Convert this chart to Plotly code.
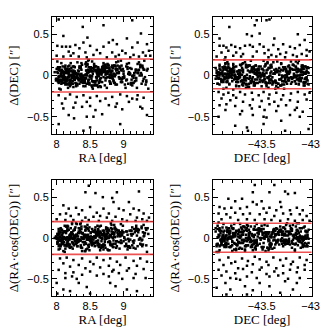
import plotly.graph_objects as go

# stars inside the +-0.2" band, shared by all four panels
ra = [8.02, 8.47, 8.91, 8.13, 9.22, 8.66, 8.35, 8.78, 9.05, 8.21,
      8.58, 8.09, 8.84, 9.31, 8.42, 8.27, 8.73, 8.96, 8.04, 8.61,
      8.38, 9.14, 8.17, 8.52, 8.88, 8.31, 9.27, 8.69, 8.11, 8.44,
      8.99, 8.24, 8.81, 8.56, 9.09, 8.07, 8.36, 8.75, 9.35, 8.49,
      8.19, 8.64, 8.93, 8.29, 9.18, 8.53, 8.01, 8.86, 8.40, 8.71,
      9.02, 8.15, 8.59, 9.25, 8.33, 8.79, 8.06, 8.45, 8.94, 8.23,
      8.67, 9.11, 8.37, 8.82, 8.12, 8.55, 9.29, 8.26, 8.74, 8.48,
      8.98, 8.03, 8.62, 9.16, 8.39, 8.87, 8.20, 8.51, 9.07, 8.30,
      8.77, 8.10, 8.43, 9.33, 8.68, 8.25, 8.92, 8.57, 8.14, 9.20,
      8.34, 8.83, 8.05, 8.63, 9.00, 8.46, 8.72, 8.18, 9.12, 8.54,
      8.28, 8.89, 8.41, 9.24, 8.08, 8.65, 8.97, 8.32, 8.80, 8.16,
      8.50, 9.04, 8.22, 8.76, 9.37, 8.60, 8.36, 8.90, 8.02, 8.47,
      9.19, 8.70, 8.13, 8.58, 8.85, 8.27, 9.08, 8.42, 8.66, 8.09,
      8.95, 8.53, 9.30, 8.19, 8.78, 8.38, 8.04, 8.62, 9.13, 8.31,
      8.84, 8.56, 8.11, 9.26, 8.45, 8.73, 8.24, 8.99, 8.60, 8.06,
      8.35, 9.03, 8.69, 8.15, 8.81, 8.49, 9.21, 8.28, 8.91, 8.40,
      8.01, 8.64, 9.10, 8.21, 8.75, 8.52, 8.33, 9.34, 8.86, 8.12,
      8.57, 8.97, 8.44, 8.07, 9.17, 8.67, 8.30, 8.82, 8.18, 8.54,
      9.06, 8.39, 8.72, 8.03, 8.93, 8.48, 9.28, 8.25, 8.61, 8.79,
      8.14, 8.46, 9.01, 8.34, 8.88, 8.59, 8.10, 9.23, 8.68, 8.37,
      8.83, 8.20, 8.51, 9.15, 8.74, 8.05, 8.43, 8.96, 8.29, 8.63,
      9.32, 8.55, 8.17, 8.77, 8.41, 9.09, 8.26, 8.87, 8.50, 8.08,
      8.70, 9.19, 8.32, 8.60, 8.94, 8.16, 8.47, 8.80, 9.05, 8.23,
      8.65, 8.36, 9.27, 8.53, 8.02, 8.76, 8.90, 8.43, 9.12, 8.19]
dec = [-43.91, -43.52, -43.17, -43.76, -43.33, -43.64, -43.08, -43.85, -43.41, -43.69,
       -43.27, -43.95, -43.48, -43.12, -43.80, -43.58, -43.22, -43.89, -43.36, -43.05,
       -43.72, -43.45, -43.61, -43.19, -43.84, -43.30, -43.93, -43.54, -43.10, -43.67,
       -43.39, -43.78, -43.24, -43.87, -43.50, -43.14, -43.70, -43.43, -43.96, -43.28,
       -43.62, -43.07, -43.82, -43.35, -43.56, -43.20, -43.74, -43.47, -43.90, -43.15,
       -43.66, -43.31, -43.86, -43.40, -43.03, -43.59, -43.79, -43.25, -43.53, -43.94,
       -43.11, -43.68, -43.44, -43.81, -43.21, -43.57, -43.04, -43.75, -43.37, -43.88,
       -43.49, -43.16, -43.63, -43.92, -43.29, -43.71, -43.42, -43.09, -43.83, -43.55,
       -43.23, -43.97, -43.46, -43.65, -43.13, -43.77, -43.34, -43.60, -43.06, -43.86,
       -43.51, -43.26, -43.73, -43.38, -43.91, -43.18, -43.58, -43.80, -43.32, -43.02,
       -43.67, -43.44, -43.89, -43.12, -43.54, -43.76, -43.22, -43.63, -43.40, -43.95,
       -43.08, -43.70, -43.48, -43.84, -43.27, -43.57, -43.14, -43.93, -43.36, -43.61,
       -43.19, -43.78, -43.45, -43.05, -43.87, -43.52, -43.30, -43.69, -43.10, -43.82,
       -43.42, -43.64, -43.25, -43.90, -43.56, -43.16, -43.74, -43.35, -43.07, -43.85,
       -43.60, -43.28, -43.47, -43.96, -43.20, -43.66, -43.39, -43.81, -43.11, -43.53,
       -43.72, -43.33, -43.88, -43.04, -43.59, -43.43, -43.79, -43.24, -43.92, -43.50,
       -43.15, -43.68, -43.37, -43.83, -43.21, -43.62, -43.09, -43.75, -43.46, -43.94,
       -43.31, -43.55, -43.86, -43.13, -43.71, -43.41, -43.03, -43.65, -43.26, -43.89,
       -43.49, -43.77, -43.18, -43.58, -43.34, -43.91, -43.06, -43.63, -43.44, -43.80,
       -43.23, -43.70, -43.52, -43.97, -43.29, -43.14, -43.67, -43.38, -43.85, -43.57,
       -43.08, -43.45, -43.73, -43.19, -43.90, -43.61, -43.32, -43.48, -43.12, -43.82,
       -43.54, -43.27, -43.66, -43.93, -43.40, -43.05, -43.76, -43.35, -43.60, -43.17,
       -43.87, -43.50, -43.22, -43.69, -43.42, -43.95, -43.10, -43.58, -43.30, -43.78,
       -43.47, -43.64, -43.15, -43.84, -43.36, -43.56, -43.02, -43.73, -43.25, -43.88]
d_dec = [0.03, -0.08, 0.12, -0.02, 0.06, -0.14, 0.01, 0.09, -0.05, 0.15,
         -0.11, 0.04, -0.01, 0.18, -0.07, 0.10, -0.03, 0.07, -0.16, 0.02,
         0.13, -0.09, 0.05, -0.04, 0.11, -0.12, 0.00, 0.08, -0.06, 0.16,
         -0.02, 0.04, -0.10, 0.14, 0.01, -0.05, 0.09, -0.15, 0.06, -0.01,
         0.12, -0.08, 0.03, -0.13, 0.07, 0.17, -0.04, 0.02, -0.07, 0.10,
         -0.11, 0.05, -0.02, 0.13, -0.06, 0.08, -0.17, 0.00, 0.11, -0.03,
         0.06, -0.09, 0.15, -0.01, 0.04, -0.12, 0.09, -0.05, 0.02, 0.19,
         -0.08, 0.07, -0.14, 0.03, -0.02, 0.12, -0.06, 0.10, -0.10, 0.01,
         0.05, -0.04, 0.14, -0.11, 0.08, -0.01, 0.17, -0.07, 0.03, -0.15,
         0.11, -0.03, 0.06, -0.09, 0.02, 0.13, -0.12, 0.04, -0.05, 0.09,
         -0.02, 0.16, -0.08, 0.00, 0.07, -0.13, 0.12, -0.04, 0.05, -0.10,
         0.10, -0.06, 0.01, 0.14, -0.16, 0.03, -0.01, 0.08, -0.07, 0.18,
         -0.03, 0.06, -0.11, 0.11, 0.02, -0.05, 0.15, -0.09, 0.04, -0.02,
         0.09, -0.14, 0.07, -0.06, 0.12, 0.00, -0.08, 0.05, -0.12, 0.16,
         -0.04, 0.10, -0.01, 0.03, -0.10, 0.13, -0.07, 0.08, -0.03, 0.06,
         0.01, -0.15, 0.11, -0.05, 0.04, -0.09, 0.14, -0.02, 0.07, -0.13,
         0.17, -0.06, 0.02, -0.11, 0.09, -0.01, 0.05, -0.08, 0.12, -0.04,
         -0.12, 0.06, -0.03, 0.15, -0.07, 0.03, -0.10, 0.10, 0.00, -0.16,
         0.08, -0.02, 0.13, -0.09, 0.04, -0.05, 0.11, -0.14, 0.07, 0.01,
         -0.06, 0.14, -0.01, 0.09, -0.11, 0.05, -0.04, 0.16, -0.08, 0.02,
         0.12, -0.13, 0.06, -0.03, 0.10, -0.07, 0.01, 0.18, -0.10, 0.04,
         -0.02, 0.08, -0.15, 0.13, -0.05, 0.03, 0.11, -0.09, 0.06, -0.01,
         0.15, -0.06, 0.02, -0.12, 0.09, -0.03, 0.07, -0.08, 0.14, 0.00,
         -0.04, 0.11, -0.10, 0.05, -0.07, 0.12, 0.03, -0.13, 0.08, -0.02]
d_ra = [-0.05, 0.11, 0.02, -0.13, 0.07, 0.15, -0.03, 0.09, -0.10, 0.04,
        0.13, -0.07, 0.00, 0.06, -0.16, 0.10, -0.01, 0.17, -0.08, 0.03,
        -0.12, 0.05, 0.14, -0.04, 0.08, -0.02, 0.12, -0.09, 0.01, -0.14,
        0.07, -0.06, 0.18, 0.02, -0.11, 0.10, -0.03, 0.05, -0.17, 0.13,
        0.00, -0.08, 0.09, 0.04, -0.13, 0.11, -0.05, 0.16, -0.01, 0.06,
        -0.10, 0.14, 0.03, -0.07, 0.08, -0.15, 0.12, -0.02, 0.05, 0.19,
        -0.04, 0.09, -0.12, 0.01, 0.15, -0.06, 0.07, -0.09, 0.11, -0.01,
        0.04, -0.14, 0.10, -0.03, 0.06, 0.13, -0.08, 0.02, -0.11, 0.17,
        -0.05, 0.08, -0.16, 0.12, 0.00, -0.07, 0.05, -0.10, 0.14, 0.03,
        -0.02, 0.11, -0.13, 0.07, -0.04, 0.16, 0.01, -0.09, 0.09, -0.06,
        0.13, -0.12, 0.04, -0.01, 0.10, -0.15, 0.06, 0.02, -0.08, 0.15,
        -0.03, 0.08, -0.11, 0.12, 0.05, -0.05, 0.18, -0.10, 0.03, -0.02,
        0.09, -0.14, 0.07, 0.00, -0.07, 0.11, -0.04, 0.14, -0.12, 0.06,
        0.02, -0.09, 0.16, -0.01, 0.10, -0.16, 0.05, -0.06, 0.13, -0.03,
        -0.11, 0.08, 0.01, -0.08, 0.12, 0.04, -0.13, 0.15, -0.05, 0.07,
        0.17, -0.02, 0.09, -0.10, 0.03, -0.15, 0.11, -0.04, 0.06, 0.00,
        -0.07, 0.14, -0.12, 0.05, 0.08, -0.01, 0.12, -0.09, 0.02, -0.17,
        0.10, -0.06, 0.13, -0.03, 0.07, -0.11, 0.04, 0.16, -0.08, 0.01,
        -0.14, 0.06, -0.02, 0.11, -0.05, 0.09, -0.10, 0.03, 0.15, -0.04,
        0.08, -0.13, 0.00, 0.12, -0.07, 0.05, -0.16, 0.10, -0.01, 0.14,
        -0.09, 0.02, 0.07, -0.12, 0.13, -0.03, 0.04, -0.06, 0.18, -0.11,
        0.06, -0.02, 0.10, -0.15, 0.01, 0.09, -0.08, 0.12, -0.04, 0.03,
        -0.10, 0.15, -0.05, 0.07, -0.13, 0.11, 0.00, -0.07, 0.08, 0.17,
        0.02, -0.09, 0.14, -0.01, 0.05, -0.14, 0.10, -0.06, 0.03, -0.11]

# second batch of band stars, the dense core near zero offset
ra_core = [8.06, 8.34, 8.63, 8.87, 9.18, 8.11, 8.41, 8.69, 8.95, 9.25,
           8.20, 8.46, 8.76, 9.04, 9.30, 8.27, 8.55, 8.81, 9.11, 8.00,
           8.09, 8.37, 8.62, 8.93, 9.21, 8.14, 8.44, 8.72, 8.98, 9.28,
           8.23, 8.49, 8.79, 9.07, 9.36, 8.30, 8.58, 8.86, 9.14, 8.04,
           8.12, 8.38, 8.66, 8.96, 9.22, 8.17, 8.47, 8.73, 9.01, 9.31,
           8.24, 8.52, 8.82, 9.10, 7.99, 8.31, 8.61, 8.89, 9.16, 8.08,
           8.15, 8.43, 8.70, 8.97, 9.27, 8.22, 8.48, 8.78, 9.06, 9.34,
           8.29, 8.57, 8.83, 9.13, 8.03, 8.35, 8.64, 8.90, 9.19, 8.10,
           8.16, 8.44, 8.74, 9.00, 9.29, 8.25, 8.51, 8.80, 9.08, 8.05,
           8.32, 8.60, 8.88, 9.15, 8.02, 8.39, 8.67, 8.94, 9.23, 8.13,
           8.21, 8.53, 8.71, 8.85, 8.18, 8.42, 8.59, 8.36, 8.77, 8.26,
           8.07, 8.65, 8.50, 8.92, 8.33, 8.19, 8.56, 8.81, 8.45, 8.12,
           8.68, 8.28, 8.54, 8.03, 8.75, 8.40, 8.86, 8.23, 8.62, 8.15,
           8.49, 8.08, 8.70, 8.37, 8.58, 8.30, 8.84, 8.20, 8.46, 8.66,
           8.11, 8.53, 8.79, 8.34, 8.01, 8.61, 8.43, 8.24, 8.73, 8.55,
           8.17, 8.88, 8.39, 8.64, 8.06, 8.48, 8.27, 8.82, 8.57, 8.14,
           8.71, 8.32, 8.04, 8.52, 8.76, 8.21, 8.44, 8.63, 8.09, 8.38,
           8.85, 8.26, 8.60, 8.13, 8.47, 8.69, 8.35, 8.02, 8.56, 8.80,
           8.22, 8.41, 8.67, 8.10, 8.51, 8.31, 8.74, 8.16, 8.58, 8.45,
           8.05, 8.62, 8.29, 8.83, 8.19, 8.50, 8.72, 8.36, 8.07, 8.65]
dec_core = [-43.88, -43.47, -43.21, -43.73, -43.36, -43.61, -43.11, -43.82, -43.44, -43.66,
            -43.29, -43.92, -43.51, -43.15, -43.77, -43.55, -43.25, -43.86, -43.39, -43.07,
            -43.69, -43.48, -43.58, -43.17, -43.81, -43.33, -43.95, -43.57, -43.13, -43.64,
            -43.42, -43.75, -43.27, -43.84, -43.53, -43.09, -43.71, -43.46, -43.90, -43.31,
            -43.60, -43.04, -43.79, -43.38, -43.52, -43.23, -43.70, -43.49, -43.94, -43.18,
            -43.63, -43.34, -43.83, -43.43, -43.06, -43.56, -43.76, -43.28, -43.50, -43.91,
            -43.14, -43.65, -43.41, -43.78, -43.24, -43.54, -43.08, -43.72, -43.40, -43.85,
            -43.45, -43.19, -43.60, -43.89, -43.32, -43.68, -43.37, -43.12, -43.80, -43.52,
            -43.26, -43.93, -43.43, -43.62, -43.16, -43.74, -43.35, -43.57, -43.03, -43.83,
            -43.48, -43.22, -43.70, -43.41, -43.87, -43.20, -43.55, -43.77, -43.30, -43.05,
            -43.90, -43.84, -43.79, -43.66, -43.93, -43.73, -43.58, -43.86, -43.62, -43.81,
            -43.95, -43.69, -43.75, -43.52, -43.88, -43.60, -43.71, -43.83, -43.64, -43.92,
            -43.78, -43.56, -43.85, -43.67, -43.74, -43.91, -43.63, -43.80, -43.53, -43.87,
            -43.70, -43.94, -43.59, -43.82, -43.76, -43.65, -43.89, -43.57, -43.72, -43.84,
            -43.38, -43.27, -43.45, -43.33, -43.22, -43.41, -43.30, -43.47, -43.36, -43.25,
            -43.43, -43.19, -43.35, -43.49, -43.28, -43.40, -43.23, -43.32, -43.46, -43.37,
            -43.14, -43.09, -43.21, -43.06, -43.17, -43.11, -43.04, -43.15, -43.08, -43.12,
            -43.61, -43.54, -43.68, -43.50, -43.66, -43.58, -43.73, -43.55, -43.79, -43.62,
            -43.85, -43.91, -43.77, -43.88, -43.83, -43.96, -43.81, -43.93, -43.86, -43.90,
            -43.42, -43.26, -43.18, -43.34, -43.07, -43.29, -43.13, -43.44, -43.24, -43.10]
ddec_core = [0.02, -0.05, 0.07, -0.01, 0.04, -0.09, 0.00, 0.06, -0.03, 0.10,
             -0.07, 0.03, -0.02, 0.11, -0.04, 0.05, -0.08, 0.01, -0.11, 0.08,
             0.04, -0.06, 0.09, -0.02, 0.03, -0.10, 0.01, 0.07, -0.04, 0.12,
             -0.01, 0.05, -0.07, 0.02, 0.08, -0.03, 0.06, -0.09, 0.00, -0.05,
             0.10, -0.02, 0.04, -0.08, 0.03, 0.11, -0.06, 0.01, -0.03, 0.07,
             -0.10, 0.05, -0.01, 0.09, -0.04, 0.02, -0.12, 0.06, 0.00, -0.07,
             0.08, -0.03, 0.12, -0.05, 0.01, -0.09, 0.04, -0.02, 0.10, -0.06,
             0.03, -0.08, 0.06, -0.01, 0.09, -0.04, 0.02, -0.11, 0.07, 0.00,
             -0.05, 0.11, -0.03, 0.05, -0.07, 0.02, 0.08, -0.10, 0.04, -0.01,
             0.06, -0.06, 0.01, -0.09, 0.10, -0.02, 0.03, -0.04, 0.07, -0.08,
             0.05, -0.01, 0.09, -0.06, 0.02, -0.03, 0.11, -0.08, 0.04, 0.00,
             -0.10, 0.07, -0.02, 0.03, -0.05, 0.08, -0.07, 0.01, 0.06, -0.04,
             0.10, -0.09, 0.02, -0.01, 0.05, -0.06, 0.12, -0.03, 0.00, 0.08,
             -0.11, 0.04, -0.02, 0.07, -0.08, 0.01, 0.09, -0.05, 0.03, -0.03,
             0.02, -0.07, 0.06, -0.10, 0.04, 0.00, -0.04, 0.11, -0.06, 0.05,
             -0.02, 0.08, -0.09, 0.03, -0.01, 0.10, -0.05, 0.01, -0.08, 0.07,
             0.04, -0.03, 0.09, -0.12, 0.02, -0.06, 0.06, -0.01, 0.11, -0.04,
             -0.07, 0.03, -0.02, 0.08, -0.10, 0.05, 0.00, -0.05, 0.12, -0.03,
             0.06, -0.08, 0.01, -0.04, 0.09, -0.01, 0.04, -0.11, 0.07, 0.02,
             -0.06, 0.10, -0.03, 0.05, -0.09, 0.00, 0.08, -0.02, 0.03, -0.07]
dra_core = [-0.03, 0.06, -0.08, 0.01, 0.09, -0.05, 0.03, -0.11, 0.07, 0.00,
            0.04, -0.02, 0.10, -0.07, 0.02, -0.04, 0.08, -0.09, 0.05, -0.01,
            -0.06, 0.11, -0.03, 0.04, -0.10, 0.06, 0.01, -0.05, 0.09, -0.02,
            0.07, -0.08, 0.03, -0.01, 0.12, -0.06, 0.02, 0.05, -0.04, 0.08,
            -0.09, 0.00, 0.06, -0.03, 0.10, -0.07, 0.04, -0.12, 0.01, 0.03,
            0.05, -0.05, 0.08, -0.02, 0.02, -0.10, 0.07, -0.04, 0.11, -0.06,
            -0.01, 0.09, -0.08, 0.03, -0.03, 0.06, -0.11, 0.00, 0.04, 0.10,
            0.02, -0.06, 0.05, -0.09, 0.08, -0.02, 0.01, -0.04, 0.12, -0.07,
            -0.05, 0.03, -0.01, 0.07, -0.08, 0.09, -0.03, 0.04, -0.10, 0.02,
            0.06, -0.04, 0.11, -0.06, 0.00, 0.05, -0.09, 0.03, -0.02, 0.08,
            0.01, -0.07, 0.04, -0.03, 0.10, -0.05, 0.02, -0.11, 0.06, -0.01,
            -0.08, 0.07, -0.02, 0.09, -0.04, 0.03, -0.06, 0.12, 0.00, -0.09,
            0.05, -0.03, 0.08, -0.10, 0.02, -0.01, 0.06, -0.05, 0.11, -0.07,
            -0.02, 0.04, -0.08, 0.01, 0.09, -0.04, 0.07, -0.12, 0.03, 0.00,
            0.08, -0.06, 0.02, -0.03, 0.05, -0.09, 0.10, -0.01, 0.04, -0.07,
            -0.04, 0.11, -0.05, 0.06, -0.10, 0.01, 0.03, -0.08, 0.07, -0.02,
            0.09, -0.01, 0.05, -0.06, 0.00, 0.12, -0.07, 0.04, -0.03, 0.06,
            -0.11, 0.02, -0.04, 0.08, -0.09, 0.03, 0.10, -0.02, 0.01, -0.05,
            0.07, -0.08, 0.04, -0.01, 0.06, -0.10, 0.02, 0.09, -0.06, 0.03,
            -0.03, 0.05, -0.07, 0.11, -0.02, 0.00, -0.09, 0.07, -0.04, 0.08]

# field-corner stars with almost no RA offset (the dark streak at 0)
corner_ra = [7.97, 7.99, 8.01, 8.03, 8.05, 8.07, 8.08, 8.10, 8.12, 8.13,
             8.15, 8.16, 8.18, 8.19, 8.21, 8.22, 8.24, 8.25, 8.27, 8.28]
corner_dec = [-43.05, -43.12, -43.08, -43.15, -43.03, -43.10, -43.06, -43.13, -43.04, -43.09,
              -43.16, -43.07, -43.11, -43.02, -43.14, -43.08, -43.05, -43.12, -43.10, -43.06]
corner_ddec = [0.04, -0.06, 0.08, -0.02, 0.10, 0.01, -0.09, 0.05, -0.04, 0.12,
               -0.07, 0.03, 0.07, -0.11, 0.00, 0.09, -0.03, 0.06, -0.05, 0.02]
corner_dra = [0.00, 0.01, -0.01, 0.00, 0.01, 0.00, -0.01, 0.01, 0.00, -0.01,
              0.00, 0.01, 0.00, -0.01, 0.01, 0.00, -0.01, 0.00, 0.01, 0.00]

# outliers, read panel by panel
tl_ra = [8.03, 8.39, 8.70, 9.13, 9.26, 8.10, 8.46, 8.84, 9.05, 9.35, 8.01, 8.08, 8.14, 8.20, 8.28,
         8.34, 8.40, 8.50, 8.60, 8.70, 8.78, 8.90, 8.98, 9.13, 9.21, 9.29, 9.38, 8.18, 8.25, 8.43,
         8.55, 8.65, 8.83, 8.93, 9.03, 9.15, 9.23, 9.33, 8.00, 8.10, 8.21, 8.33, 8.45, 8.75, 8.88,
         9.10, 9.40,
         8.03, 8.13, 8.20, 8.30, 8.40, 8.50, 8.60, 8.73, 8.83, 8.95, 9.05, 9.13, 9.21, 9.30, 8.08,
         8.28, 8.45, 8.65, 8.78, 8.90, 9.08, 9.20, 9.25, 8.10, 8.25, 8.38, 8.50, 8.58, 8.68, 8.88,
         8.98, 9.28, 8.18, 8.26, 8.45, 8.55, 8.95, 9.35, 8.03, 8.50, 8.40]
tl_ddec = [0.68, 0.59, 0.61, 0.67, 0.51, 0.48, 0.46, 0.43, 0.45, 0.38, 0.36, 0.35, 0.35, 0.35, 0.37,
           0.33, 0.40, 0.36, 0.31, 0.35, 0.40, 0.38, 0.30, 0.34, 0.40, 0.28, 0.30, 0.29, 0.27, 0.28,
           0.25, 0.27, 0.28, 0.25, 0.27, 0.25, 0.23, 0.24, 0.24, 0.23, 0.24, 0.23, 0.22, 0.22, 0.23,
           0.22, 0.24,
           -0.24, -0.28, -0.23, -0.26, -0.24, -0.27, -0.25, -0.28, -0.26, -0.23, -0.25, -0.28, -0.24, -0.27, -0.34,
           -0.33, -0.32, -0.31, -0.36, -0.34, -0.32, -0.29, -0.38, -0.40, -0.39, -0.38, -0.37, -0.42, -0.47, -0.38,
           -0.41, -0.40, -0.48, -0.52, -0.50, -0.50, -0.59, -0.48, -0.59, -0.63, -0.67]

tr_dec = [-43.83, -43.55, -43.45, -43.42, -43.57, -43.65, -43.60, -43.52, -43.37, -43.13, -43.06, -43.93, -43.93,
          -43.89, -43.86, -43.81, -43.77, -43.72, -43.67, -43.62, -43.59, -43.52, -43.48, -43.43, -43.38, -43.33,
          -43.28, -43.21, -43.16, -43.11, -43.04, -43.91, -43.84, -43.76, -43.69, -43.55, -43.47, -43.40, -43.31,
          -43.25, -43.18, -43.09, -43.01, -43.96, -43.87, -43.79, -43.71, -43.59, -43.43, -43.35, -43.26, -43.14,
          -43.04,
          -43.94, -43.89, -43.84, -43.79, -43.72, -43.67, -43.60, -43.53, -43.48, -43.42, -43.35, -43.28, -43.20,
          -43.13, -43.06, -43.01, -43.91, -43.82, -43.76, -43.69, -43.59, -43.50, -43.43, -43.37, -43.30, -43.21,
          -43.13, -43.04, -43.93, -43.86, -43.77, -43.62, -43.52, -43.42, -43.33, -43.25, -43.14, -43.87, -43.70,
          -43.60, -43.47, -43.35, -43.16, -43.08, -43.94, -43.72, -43.59, -43.48, -43.45, -43.30, -43.21, -43.11,
          -43.77, -43.65, -43.48, -43.64, -43.26, -43.02]
tr_ddec = [0.59, 0.67, 0.67, 0.68, 0.61, 0.50, 0.48, 0.51, 0.45, 0.50, 0.43, 0.45, 0.36,
           0.36, 0.34, 0.37, 0.35, 0.33, 0.36, 0.37, 0.35, 0.38, 0.35, 0.31, 0.37, 0.32,
           0.38, 0.35, 0.33, 0.37, 0.31, 0.28, 0.30, 0.28, 0.26, 0.29, 0.27, 0.25, 0.26,
           0.28, 0.25, 0.26, 0.29, 0.23, 0.22, 0.24, 0.23, 0.23, 0.22, 0.23, 0.22, 0.23,
           0.24,
           -0.20, -0.23, -0.21, -0.24, -0.20, -0.23, -0.21, -0.24, -0.20, -0.23, -0.21, -0.24, -0.22,
           -0.20, -0.23, -0.21, -0.28, -0.30, -0.27, -0.32, -0.29, -0.31, -0.28, -0.32, -0.29, -0.30,
           -0.32, -0.29, -0.36, -0.35, -0.37, -0.36, -0.38, -0.35, -0.37, -0.36, -0.39, -0.42, -0.43,
           -0.40, -0.42, -0.43, -0.42, -0.44, -0.50, -0.47, -0.48, -0.50, -0.51, -0.55, -0.48, -0.50,
           -0.61, -0.63, -0.59, -0.67, -0.67, -0.65]

bl_ra = [8.48, 8.43, 8.58, 8.69, 8.83, 8.90, 9.23, 8.85, 9.08, 9.15, 9.23, 8.10, 8.18, 8.29, 8.38,
         8.50, 8.60, 8.70, 8.78, 8.93, 9.00, 9.30, 9.38, 8.05, 8.14, 8.21, 8.33, 8.43, 8.55, 8.65,
         8.75, 8.88, 8.98, 9.10, 9.20, 9.28, 8.00, 8.13, 8.25, 8.38, 8.48, 8.63, 8.83, 9.05, 9.18,
         9.35,
         8.05, 8.15, 8.25, 8.38, 8.50, 8.60, 8.70, 8.80, 8.90, 9.03, 9.15, 9.25, 9.35, 8.10, 8.20,
         8.33, 8.43, 8.55, 8.65, 8.78, 8.85, 8.95, 9.08, 9.20, 9.30, 8.03, 8.13, 8.25, 8.38, 8.50,
         8.60, 8.70, 8.83, 8.93, 9.05, 9.18, 8.13, 8.23, 8.30, 8.78, 8.98, 9.15, 9.33, 8.00, 8.33,
         8.80, 8.45, 8.88, 9.05, 8.10, 8.20, 8.50, 8.01, 9.20]
bl_dra = [0.64, 0.56, 0.55, 0.50, 0.49, 0.56, 0.57, 0.44, 0.44, 0.36, 0.34, 0.40, 0.36, 0.37, 0.34,
          0.38, 0.31, 0.36, 0.30, 0.36, 0.34, 0.30, 0.25, 0.29, 0.30, 0.27, 0.29, 0.25, 0.26, 0.27,
          0.25, 0.26, 0.23, 0.29, 0.25, 0.23, 0.23, 0.22, 0.22, 0.21, 0.22, 0.21, 0.21, 0.21, 0.21,
          0.21,
          -0.25, -0.24, -0.27, -0.25, -0.29, -0.24, -0.27, -0.25, -0.29, -0.24, -0.28, -0.25, -0.29, -0.31, -0.35,
          -0.33, -0.37, -0.32, -0.36, -0.34, -0.39, -0.33, -0.37, -0.34, -0.38, -0.39, -0.43, -0.42, -0.45, -0.41,
          -0.46, -0.44, -0.41, -0.43, -0.40, -0.44, -0.49, -0.47, -0.50, -0.47, -0.50, -0.49, -0.49, -0.55, -0.55,
          -0.55, -0.60, -0.59, -0.63, -0.63, -0.65, -0.68, -0.68, -0.65]

br_dec = [-43.57, -43.37, -43.59, -43.42, -43.26, -43.23, -43.16, -43.84, -43.77, -43.70, -43.50, -43.31, -43.59,
          -43.93, -43.88, -43.81, -43.72, -43.65, -43.55, -43.48, -43.42, -43.35, -43.30, -43.21, -43.14, -43.08,
          -43.94, -43.86, -43.77, -43.69, -43.62, -43.52, -43.45, -43.37, -43.28, -43.20, -43.11, -43.04, -43.91,
          -43.82, -43.74, -43.65, -43.57, -43.47, -43.40, -43.31, -43.23, -43.16, -43.08, -43.01,
          -43.93, -43.84, -43.77, -43.70, -43.64, -43.57, -43.52, -43.45, -43.38, -43.31, -43.25, -43.18, -43.11,
          -43.04, -43.89, -43.81, -43.74, -43.65, -43.59, -43.50, -43.43, -43.35, -43.28, -43.20, -43.13, -43.06,
          -43.94, -43.86, -43.77, -43.69, -43.60, -43.52, -43.45, -43.37, -43.28, -43.21, -43.14, -43.06, -43.91,
          -43.82, -43.72, -43.65, -43.55, -43.42, -43.33, -43.23, -43.11, -43.87, -43.76, -43.67, -43.52, -43.42,
          -43.26, -43.14, -43.96, -43.82, -43.59, -43.31, -43.86, -43.65, -43.18]
br_dra = [0.65, 0.65, 0.56, 0.56, 0.57, 0.54, 0.55, 0.48, 0.45, 0.48, 0.45, 0.44, 0.44,
          0.38, 0.36, 0.37, 0.36, 0.38, 0.41, 0.36, 0.37, 0.34, 0.38, 0.34, 0.37, 0.34,
          0.30, 0.29, 0.31, 0.29, 0.30, 0.29, 0.31, 0.27, 0.30, 0.29, 0.29, 0.27, 0.23,
          0.25, 0.22, 0.23, 0.22, 0.23, 0.22, 0.21, 0.23, 0.21, 0.22, 0.21,
          -0.27, -0.24, -0.29, -0.25, -0.28, -0.23, -0.26, -0.29, -0.24, -0.27, -0.25, -0.29, -0.24,
          -0.27, -0.33, -0.31, -0.37, -0.34, -0.32, -0.36, -0.33, -0.37, -0.34, -0.32, -0.36, -0.33,
          -0.39, -0.41, -0.43, -0.38, -0.42, -0.39, -0.44, -0.41, -0.43, -0.39, -0.42, -0.39, -0.46,
          -0.49, -0.51, -0.47, -0.49, -0.47, -0.46, -0.50, -0.49, -0.55, -0.50, -0.59, -0.55, -0.59,
          -0.53, -0.55, -0.61, -0.63, -0.64, -0.67, -0.69, -0.69, -0.63]

# red reference levels per panel (arcsec)
lim_tl = [0.20, -0.20]
lim_tr = [0.19, -0.16]
lim_bl = [0.20, -0.20]
lim_br = [0.18, -0.175]

ra_ticks = [8, 8.5, 9]
dec_ticks = [-43.5, -43]
y_ticks = [-0.5, 0, 0.5]

all_ra = ra + ra_core + corner_ra
all_dec = dec + dec_core + corner_dec
all_ddec = d_dec + ddec_core + corner_ddec
all_dra = d_ra + dra_core + corner_dra

fig = go.Figure()

panels = [
    # x data, y data, x axis, y axis, x domain, y domain, levels, x ticks, x range, x title, y title
    (all_ra + tl_ra, all_ddec + tl_ddec, 'x', 'y', [0.1566, 0.4608], [0.5964, 0.9488], lim_tl,
     ra_ticks, [7.93, 9.44], 'RA [deg]', 'Δ(DEC) [″]'),
    (all_dec + tr_dec, all_ddec + tr_ddec, 'x2', 'y2', [0.6407, 0.9383], [0.5964, 0.9488], lim_tr,
     dec_ticks, [-44.0, -42.99], 'DEC [deg]', 'Δ(DEC) [″]'),
    (all_ra + bl_ra, all_dra + bl_dra, 'x3', 'y3', [0.1566, 0.4608], [0.1084, 0.4578], lim_bl,
     ra_ticks, [7.93, 9.44], 'RA [deg]', 'Δ(RA·cos(DEC)) [″]'),
    (all_dec + br_dec, all_dra + br_dra, 'x4', 'y4', [0.6407, 0.9383], [0.1084, 0.4578], lim_br,
     dec_ticks, [-44.0, -42.99], 'DEC [deg]', 'Δ(RA·cos(DEC)) [″]'),
]

tick_font = dict(family='Liberation Sans', size=11, color='black')
title_font = dict(family='Liberation Serif', size=13, color='black')

layout = dict(width=332, height=332, margin=dict(l=0, r=0, t=0, b=0),
              paper_bgcolor='white', plot_bgcolor='white', showlegend=False)
shapes = []

for px, py, xa, ya, xdom, ydom, lims, xticks, xrange_, xtitle, ytitle in panels:
    fig.add_trace(go.Scatter(x=px, y=py, mode='markers', xaxis=xa, yaxis=ya,
                             marker=dict(symbol='square', size=2.5, color='black', line=dict(width=0)),
                             hoverinfo='skip'))
    for lv in lims:
        shapes.append(dict(type='line', xref=xa + ' domain', yref=ya, x0=0, x1=1, y0=lv, y1=lv,
                           line=dict(color='rgba(235,50,50,0.85)', width=1.6), layer='above'))
    xkey = 'xaxis' + xa[1:]
    ykey = 'yaxis' + ya[1:]
    layout[xkey] = dict(domain=xdom, anchor=ya, range=xrange_, tickvals=xticks, automargin=False,
                        ticktext=[f'{t:g}'.replace('-', '−') for t in xticks],
                        showgrid=False, zeroline=False, showline=True, linecolor='black', linewidth=1,
                        mirror='ticks', ticks='inside', ticklen=5, tickwidth=1, tickcolor='black',
                        minor=dict(dtick=0.1, tick0=0, ticks='inside', ticklen=2.5, tickcolor='black', showgrid=False),
                        tickfont=tick_font, title=dict(text=xtitle, font=title_font, standoff=3))
    layout[ykey] = dict(domain=ydom, anchor=xa, range=[-0.71, 0.71], tickvals=y_ticks, automargin=False,
                        ticktext=[f'{t:g}'.replace('-', '−') for t in y_ticks],
                        showgrid=False, zeroline=False, showline=True, linecolor='black', linewidth=1,
                        mirror='ticks', ticks='inside', ticklen=5, tickwidth=1, tickcolor='black',
                        minor=dict(dtick=0.1, tick0=0, ticks='inside', ticklen=2.5, tickcolor='black', showgrid=False),
                        tickfont=tick_font, title=dict(text=ytitle, font=title_font, standoff=5))

layout['shapes'] = shapes
fig.update_layout(**layout)

# the page body has a default 8px margin; drop it so the 332px figure fills the window
fig.write_html("out.html", config={'displayModeBar': False},
               post_script="document.body.style.margin = '0';")
